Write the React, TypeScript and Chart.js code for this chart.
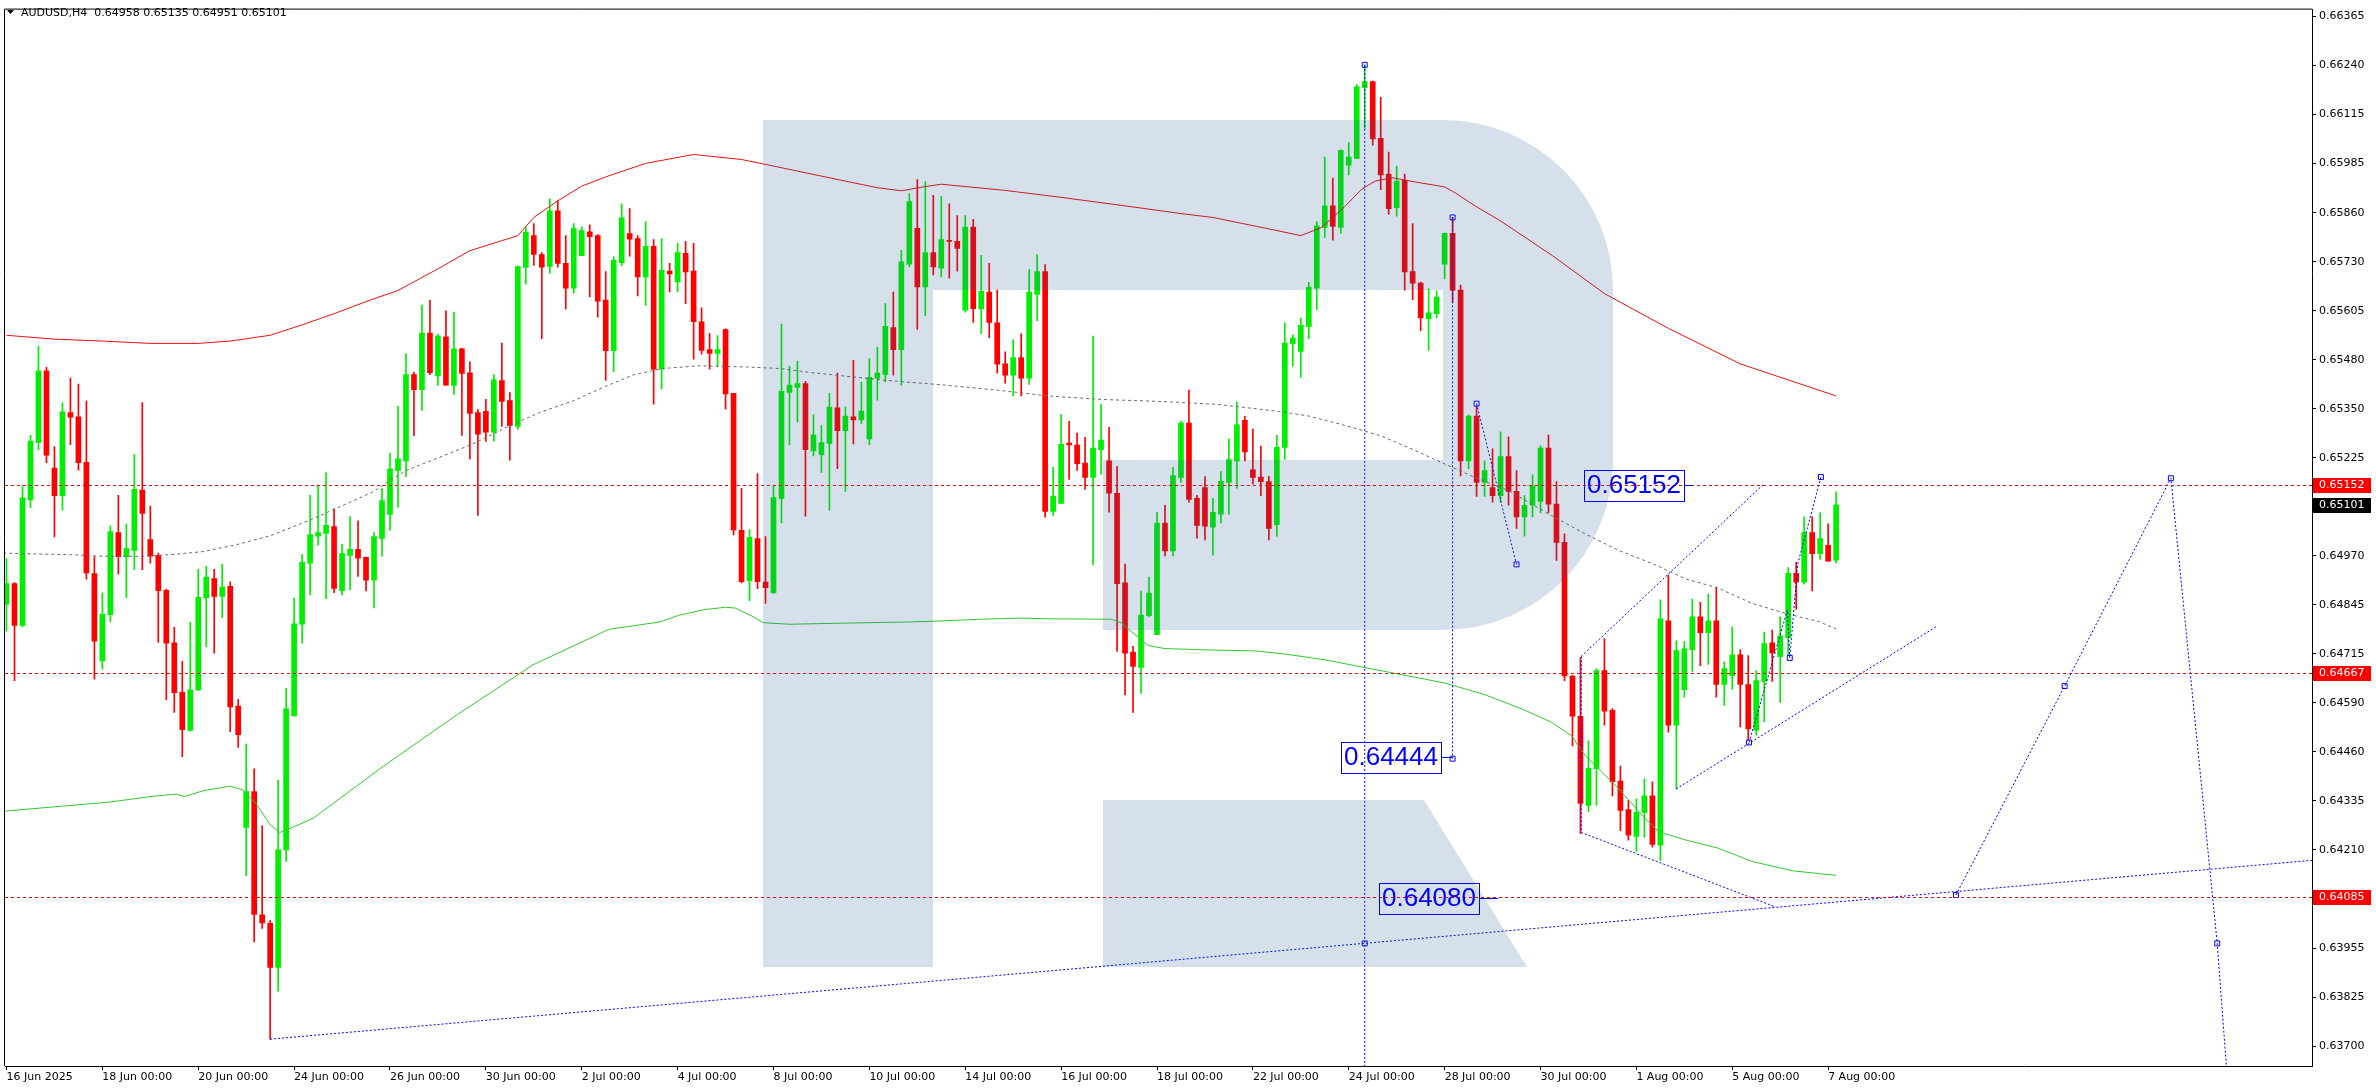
import React, { useEffect, useRef } from 'react';
import { Chart, registerables } from 'chart.js';

Chart.register(...registerables);

// ---------------- DATA ----------------
const SYMBOL = 'AUDUSD,H4';

const OPEN = [
  0.64844, 0.64897, 0.64789, 0.65114, 0.65263, 0.65448, 0.65196, 0.65125, 0.65340, 0.65329,
  0.65211, 0.64923, 0.64697, 0.64817, 0.65029, 0.64967, 0.64983, 0.65139, 0.65011, 0.64970,
  0.64880, 0.64744, 0.64616, 0.64517, 0.64622, 0.64860, 0.64910, 0.64864, 0.64890, 0.64580,
  0.64266, 0.64359, 0.64040, 0.64018, 0.63904, 0.64208, 0.64555, 0.64792, 0.64950, 0.65020,
  0.65027, 0.65045, 0.64879, 0.64970, 0.64986, 0.64965, 0.64906, 0.65014, 0.65076, 0.65190,
  0.65215, 0.65438, 0.65399, 0.65546, 0.65435, 0.65536, 0.65410, 0.65505, 0.65443, 0.65340,
  0.65343, 0.65289, 0.65423, 0.65371, 0.65304, 0.65716, 0.65798, 0.65749, 0.65718, 0.65862,
  0.65726, 0.65662, 0.65746, 0.65808, 0.65798, 0.65631, 0.65500, 0.65728, 0.65803, 0.65790,
  0.65691, 0.65770, 0.65452, 0.65706, 0.65678, 0.65752, 0.65706, 0.65575, 0.65503, 0.65493,
  0.65555, 0.65390, 0.65035, 0.64905, 0.65014, 0.64901, 0.64874, 0.65118, 0.65392, 0.65405,
  0.65415, 0.65241, 0.65231, 0.65260, 0.65352, 0.65293, 0.65329, 0.65321, 0.65272, 0.65429,
  0.65439, 0.65560, 0.65503, 0.65724, 0.65817, 0.65665, 0.65754, 0.65714, 0.65786, 0.65783,
  0.65605, 0.65820, 0.65609, 0.65652, 0.65572, 0.65466, 0.65437, 0.65482, 0.65429, 0.65646,
  0.65705, 0.65084, 0.65105, 0.65261, 0.65256, 0.65209, 0.65172, 0.65244, 0.65215, 0.65131,
  0.64899, 0.64720, 0.64680, 0.64814, 0.64765, 0.65054, 0.64982, 0.65172, 0.65313, 0.65118,
  0.65146, 0.65043, 0.65077, 0.65159, 0.65215, 0.65320, 0.65192, 0.65173, 0.65161, 0.65050,
  0.65250, 0.65518, 0.65498, 0.65562, 0.65662, 0.65819, 0.65875, 0.65819, 0.65980, 0.65998,
  0.66181, 0.66197, 0.66050, 0.65957, 0.65870, 0.65941, 0.65705, 0.65675, 0.65583, 0.65596,
  0.65724, 0.65804, 0.65657, 0.65215, 0.65331, 0.65159, 0.65146, 0.65125, 0.65226, 0.65136,
  0.65070, 0.65100, 0.65110, 0.65248, 0.65103, 0.65004, 0.64658, 0.64554, 0.64323, 0.64418,
  0.64672, 0.64569, 0.64386, 0.64312, 0.64243, 0.64305, 0.64348, 0.64220, 0.64801, 0.64531,
  0.64623, 0.64726, 0.64811, 0.64770, 0.64801, 0.64636, 0.64659, 0.64713, 0.64636, 0.64518,
  0.64644, 0.64744, 0.64708, 0.64757, 0.64924, 0.64901, 0.65029, 0.64975, 0.64996, 0.64958,
];

const HIGH = [
  0.64962, 0.64900, 0.65151, 0.65281, 0.65512, 0.65457, 0.65252, 0.65366, 0.65429, 0.65414,
  0.65370, 0.64967, 0.64873, 0.65047, 0.65126, 0.65052, 0.65231, 0.65366, 0.65098, 0.64976,
  0.64883, 0.64784, 0.64696, 0.64797, 0.64934, 0.64942, 0.64934, 0.64947, 0.64902, 0.64598,
  0.64482, 0.64418, 0.64270, 0.64025, 0.64388, 0.64626, 0.64860, 0.64973, 0.65126, 0.65152,
  0.65184, 0.65091, 0.64999, 0.65071, 0.65060, 0.64966, 0.65029, 0.65143, 0.65235, 0.65356,
  0.65492, 0.65445, 0.65618, 0.65631, 0.65543, 0.65603, 0.65600, 0.65507, 0.65471, 0.65348,
  0.65374, 0.65438, 0.65520, 0.65392, 0.65720, 0.65821, 0.65829, 0.65754, 0.65893, 0.65888,
  0.65798, 0.65829, 0.65821, 0.65826, 0.65800, 0.65705, 0.65744, 0.65880, 0.65868, 0.65798,
  0.65834, 0.65788, 0.65790, 0.65726, 0.65778, 0.65783, 0.65778, 0.65611, 0.65545, 0.65539,
  0.65557, 0.65390, 0.65144, 0.65037, 0.65182, 0.65019, 0.65149, 0.65569, 0.65460, 0.65473,
  0.65421, 0.65334, 0.65306, 0.65390, 0.65442, 0.65354, 0.65475, 0.65419, 0.65480, 0.65509,
  0.65622, 0.65652, 0.65760, 0.65907, 0.65943, 0.65937, 0.65902, 0.65899, 0.65880, 0.65850,
  0.65850, 0.65840, 0.65747, 0.65726, 0.65657, 0.65497, 0.65528, 0.65544, 0.65711, 0.65749,
  0.65723, 0.65198, 0.65335, 0.65317, 0.65287, 0.65276, 0.65538, 0.65361, 0.65302, 0.65200,
  0.64948, 0.64735, 0.64878, 0.64914, 0.65082, 0.65100, 0.65198, 0.65318, 0.65398, 0.65126,
  0.65174, 0.65118, 0.65187, 0.65272, 0.65367, 0.65330, 0.65297, 0.65253, 0.65175, 0.65281,
  0.65572, 0.65541, 0.65584, 0.65677, 0.65834, 0.66001, 0.65947, 0.66020, 0.66039, 0.66189,
  0.66240, 0.66198, 0.66156, 0.66014, 0.65978, 0.65957, 0.65829, 0.65678, 0.65660, 0.65655,
  0.65805, 0.65845, 0.65670, 0.65334, 0.65357, 0.65215, 0.65246, 0.65290, 0.65277, 0.65190,
  0.65125, 0.65179, 0.65254, 0.65282, 0.65161, 0.65026, 0.64660, 0.64706, 0.64490, 0.64677,
  0.64755, 0.64574, 0.64425, 0.64336, 0.64340, 0.64392, 0.64384, 0.64855, 0.64919, 0.64749,
  0.64747, 0.64857, 0.64849, 0.64870, 0.64888, 0.64695, 0.64785, 0.64726, 0.64711, 0.64672,
  0.64772, 0.64777, 0.64811, 0.64939, 0.64952, 0.65070, 0.65070, 0.65081, 0.65052, 0.65135,
];

const LOW = [
  0.64774, 0.64646, 0.64785, 0.65094, 0.65243, 0.65210, 0.65018, 0.65087, 0.65257, 0.65191,
  0.64909, 0.64650, 0.64676, 0.64799, 0.64922, 0.64861, 0.64933, 0.64933, 0.64950, 0.64745,
  0.64597, 0.64564, 0.64449, 0.64515, 0.64620, 0.64734, 0.64717, 0.64809, 0.64514, 0.64473,
  0.64141, 0.63970, 0.64005, 0.63718, 0.63842, 0.64178, 0.64554, 0.64743, 0.64868, 0.64997,
  0.64858, 0.64874, 0.64868, 0.64881, 0.64916, 0.64878, 0.64834, 0.64968, 0.65035, 0.65095,
  0.65174, 0.65280, 0.65346, 0.65438, 0.65410, 0.65410, 0.65387, 0.65281, 0.65220, 0.65074,
  0.65265, 0.65266, 0.65304, 0.65217, 0.65297, 0.65672, 0.65721, 0.65531, 0.65700, 0.65716,
  0.65608, 0.65649, 0.65746, 0.65639, 0.65587, 0.65423, 0.65446, 0.65720, 0.65745, 0.65642,
  0.65617, 0.65362, 0.65401, 0.65652, 0.65652, 0.65622, 0.65478, 0.65491, 0.65452, 0.65460,
  0.65349, 0.65023, 0.64899, 0.64853, 0.64884, 0.64846, 0.64872, 0.65054, 0.65257, 0.65316,
  0.65072, 0.65228, 0.65185, 0.65087, 0.65195, 0.65136, 0.65259, 0.65311, 0.65257, 0.65372,
  0.65419, 0.65437, 0.65411, 0.65717, 0.65555, 0.65591, 0.65696, 0.65691, 0.65688, 0.65706,
  0.65600, 0.65573, 0.65544, 0.65534, 0.65442, 0.65416, 0.65383, 0.65383, 0.65413, 0.65578,
  0.65069, 0.65074, 0.65105, 0.65167, 0.65190, 0.65141, 0.64946, 0.65180, 0.65082, 0.64722,
  0.64609, 0.64564, 0.64613, 0.64811, 0.64765, 0.64969, 0.64969, 0.65159, 0.65108, 0.65015,
  0.65010, 0.64971, 0.65054, 0.65077, 0.65144, 0.65215, 0.65155, 0.65125, 0.65010, 0.65020,
  0.65219, 0.65460, 0.65431, 0.65531, 0.65606, 0.65793, 0.65786, 0.65804, 0.65955, 0.65997,
  0.66076, 0.66032, 0.65917, 0.65853, 0.65848, 0.65657, 0.65632, 0.65552, 0.65501, 0.65585,
  0.65686, 0.65626, 0.65176, 0.65195, 0.65123, 0.65123, 0.65108, 0.65108, 0.65100, 0.65040,
  0.65020, 0.65070, 0.65080, 0.65080, 0.64957, 0.64646, 0.64477, 0.64250, 0.64307, 0.64323,
  0.64531, 0.64348, 0.64258, 0.64233, 0.64204, 0.64240, 0.64215, 0.64181, 0.64513, 0.64366,
  0.64603, 0.64670, 0.64685, 0.64688, 0.64603, 0.64582, 0.64624, 0.64526, 0.64492, 0.64505,
  0.64539, 0.64644, 0.64590, 0.64711, 0.64831, 0.64896, 0.64878, 0.64960, 0.64955, 0.64951,
];

const CLOSE = [
  0.64897, 0.64789, 0.65119, 0.65266, 0.65448, 0.65230, 0.65125, 0.65342, 0.65328, 0.65210,
  0.64925, 0.64748, 0.64818, 0.65032, 0.64967, 0.64988, 0.65141, 0.65079, 0.64968, 0.64879,
  0.64743, 0.64615, 0.64519, 0.64622, 0.64862, 0.64914, 0.64864, 0.64888, 0.64578, 0.64506,
  0.64359, 0.64041, 0.64019, 0.63904, 0.64208, 0.64573, 0.64793, 0.64952, 0.65024, 0.65029,
  0.65048, 0.64885, 0.64975, 0.64986, 0.64963, 0.64906, 0.65019, 0.65112, 0.65194, 0.65220,
  0.65438, 0.65399, 0.65546, 0.65443, 0.65538, 0.65411, 0.65505, 0.65441, 0.65338, 0.65284,
  0.65289, 0.65425, 0.65369, 0.65307, 0.65718, 0.65807, 0.65749, 0.65716, 0.65862, 0.65726,
  0.65662, 0.65816, 0.65811, 0.65795, 0.65628, 0.65500, 0.65734, 0.65844, 0.65789, 0.65691,
  0.65770, 0.65452, 0.65708, 0.65699, 0.65754, 0.65704, 0.65575, 0.65501, 0.65493, 0.65503,
  0.65388, 0.65036, 0.64902, 0.65017, 0.64902, 0.64887, 0.65120, 0.65395, 0.65411, 0.65415,
  0.65244, 0.65282, 0.65262, 0.65354, 0.65293, 0.65331, 0.65321, 0.65344, 0.65431, 0.65442,
  0.65563, 0.65503, 0.65730, 0.65886, 0.65665, 0.65754, 0.65717, 0.65788, 0.65783, 0.65765,
  0.65820, 0.65609, 0.65654, 0.65573, 0.65465, 0.65437, 0.65482, 0.65429, 0.65652, 0.65705,
  0.65084, 0.65124, 0.65258, 0.65256, 0.65208, 0.65172, 0.65248, 0.65269, 0.65131, 0.64897,
  0.64717, 0.64683, 0.64816, 0.64873, 0.65054, 0.64982, 0.65177, 0.65313, 0.65115, 0.65048,
  0.65046, 0.65082, 0.65162, 0.65218, 0.65308, 0.65238, 0.65172, 0.65161, 0.65040, 0.65250,
  0.65520, 0.65533, 0.65566, 0.65664, 0.65823, 0.65875, 0.65822, 0.66019, 0.66001, 0.66183,
  0.66197, 0.66048, 0.65955, 0.65868, 0.65939, 0.65704, 0.65675, 0.65585, 0.65598, 0.65639,
  0.65804, 0.65657, 0.65215, 0.65331, 0.65159, 0.65190, 0.65125, 0.65226, 0.65136, 0.65070,
  0.65100, 0.65150, 0.65248, 0.65103, 0.65004, 0.64658, 0.64554, 0.64328, 0.64419, 0.64672,
  0.64567, 0.64384, 0.64310, 0.64246, 0.64305, 0.64348, 0.64222, 0.64806, 0.64531, 0.64724,
  0.64729, 0.64811, 0.64770, 0.64801, 0.64636, 0.64677, 0.64713, 0.64636, 0.64521, 0.64646,
  0.64742, 0.64718, 0.64762, 0.64924, 0.64901, 0.65029, 0.64975, 0.65014, 0.64955, 0.65101,
];

// moving averages (bar position, value)
const RED_MA_BARS = [0, 6, 12, 18, 24, 28, 33, 37, 41, 45.5, 49, 54, 58, 62, 64, 66, 69, 72, 75, 80, 86, 92, 96, 99, 105, 109, 112, 115, 117, 125, 132, 140, 147, 151, 155, 159, 162, 164.6, 167.6, 169.6, 171.3, 173.4, 176.3, 180, 181.3, 183.8, 187, 190.4, 193.5, 200, 208, 217, 229];
const RED_MA_VALUES = [0.65540, 0.65530, 0.65525, 0.65519, 0.65519, 0.65525, 0.65540, 0.65567, 0.65596, 0.65631, 0.65656, 0.65712, 0.65759, 0.65785, 0.65798, 0.65845, 0.65888, 0.65926, 0.65950, 0.65985, 0.66008, 0.65995, 0.65978, 0.65965, 0.65939, 0.65922, 0.65914, 0.65925, 0.65931, 0.65915, 0.65897, 0.65875, 0.65855, 0.65845, 0.65828, 0.65811, 0.65798, 0.65819, 0.65875, 0.65918, 0.65939, 0.65948, 0.65937, 0.65924, 0.65909, 0.65875, 0.65836, 0.65789, 0.65746, 0.65648, 0.65558, 0.65466, 0.65383];

const GRAY_MA_BARS = [-0.4, 8, 12, 17, 20.5, 24.6, 28.8, 33, 37.9, 41.6, 45.8, 48.3, 50, 54.2, 58.3, 62.5, 66.7, 70.9, 75, 78.4, 82.1, 86.7, 92.6, 96.8, 100.9, 105.1, 109.3, 112.6, 117, 124.5, 130.4, 137, 145.4, 151.6, 155.5, 158.8, 163, 167.1, 170, 172.1, 175.4, 179.6, 183.8, 188, 190.5, 193.4, 197.6, 201.8, 206, 210.1, 214.3, 218.5, 222.7, 226.8, 229];
const GRAY_MA_VALUES = [0.64976, 0.64972, 0.64968, 0.64968, 0.64972, 0.64980, 0.64998, 0.65021, 0.65061, 0.65095, 0.65134, 0.65168, 0.65190, 0.65224, 0.65258, 0.65301, 0.65340, 0.65370, 0.65408, 0.65437, 0.65454, 0.65461, 0.65458, 0.65454, 0.65443, 0.65434, 0.65425, 0.65419, 0.65412, 0.65397, 0.65383, 0.65374, 0.65368, 0.65361, 0.65352, 0.65344, 0.65331, 0.65309, 0.65292, 0.65279, 0.65250, 0.65211, 0.65172, 0.65138, 0.65108, 0.65073, 0.65026, 0.64983, 0.64949, 0.64910, 0.64885, 0.64846, 0.64820, 0.64799, 0.64780];

const GREEN_MA_BARS = [-0.4, 8, 13, 18.4, 21.3, 22.3, 24.6, 28, 29.6, 31.3, 33, 34.2, 35.9, 38.4, 47, 56.4, 65.9, 75.4, 81.8, 84.1, 87.4, 90, 91.2, 93.3, 94.7, 98, 105, 113, 116.2, 122, 127, 130.8, 138.3, 139.5, 141.2, 142.9, 145, 151.3, 156.3, 160, 165, 170, 175, 180, 185, 190, 193.4, 195.9, 197.6, 201.8, 205.1, 206.8, 210.1, 214.3, 218.5, 223.5, 229];
const GREEN_MA_VALUES = [0.64308, 0.64323, 0.64332, 0.64347, 0.64352, 0.64346, 0.64361, 0.64373, 0.64363, 0.64326, 0.64273, 0.64253, 0.64267, 0.64290, 0.64422, 0.64558, 0.64687, 0.64779, 0.64798, 0.64815, 0.64830, 0.64836, 0.64834, 0.64813, 0.64796, 0.64792, 0.64795, 0.64798, 0.64800, 0.64805, 0.64808, 0.64806, 0.64805, 0.64796, 0.64766, 0.64737, 0.64729, 0.64725, 0.64723, 0.64715, 0.64700, 0.64680, 0.64660, 0.64640, 0.64610, 0.64570, 0.64538, 0.64503, 0.64452, 0.64366, 0.64289, 0.64255, 0.64234, 0.64212, 0.64178, 0.64154, 0.64142];

// drawn analysis objects (bar position, price)
const TREND_BARS = [33, 288.6];
const TREND_VALUES = [0.63718, 0.64181];
const VLINE_A_BARS = [170, 170, 170];
const VLINE_A_VALUES = [0.66240, 0.63966, 0.63550];
const VLINE_B_BARS = [181, 181];
const VLINE_B_VALUES = [0.65845, 0.64444];
const WAVE_A_BARS = [184, 189];
const WAVE_A_VALUES = [0.65363, 0.64947];
const CHANNEL_UP_BARS = [197.1, 220];
const CHANNEL_UP_VALUES = [0.64709, 0.65156];
const CHANNEL_SIDE_BARS = [197.1, 197.1, 221.2];
const CHANNEL_SIDE_VALUES = [0.64709, 0.64253, 0.64062];
const CHANNEL_LOW_BARS = [209, 241.7];
const CHANNEL_LOW_VALUES = [0.64366, 0.64788];
const WAVE_B_BARS = [218.1, 222.9, 223.2, 224.2, 227.1];
const WAVE_B_VALUES = [0.64486, 0.64829, 0.64705, 0.64949, 0.65173];
const PROJ_BARS = [244, 257.6, 270.9, 276.7, 278.2];
const PROJ_VALUES = [0.64091, 0.64632, 0.65170, 0.63966, 0.63550];

const BOX_TEXTS = ['0.65152', '0.64444', '0.64080'];
const BOX_VALUES = [0.65152, 0.64449, 0.64083];
const BOX_RIGHT_BARS = [209.9, 179.6, 184.25];
const BOX_LINE_TO_BARS = [211.1, 181, 186.7];

const LEVELS = [0.65152, 0.64667, 0.64085];
const LEVEL_LABELS = ['0.65152', '0.64667', '0.64085'];
const LAST_PRICE = 0.65101;
const LAST_PRICE_LABEL = '0.65101';

const X_TICK_BARS = [0, 12, 24, 36, 48, 60, 72, 84, 96, 108, 120, 132, 144, 156, 168, 180, 192, 204, 216, 228];
const X_TICK_LABELS = ['16 Jun 2025', '18 Jun 00:00', '20 Jun 00:00', '24 Jun 00:00', '26 Jun 00:00', '30 Jun 00:00', '2 Jul 00:00', '4 Jul 00:00', '8 Jul 00:00', '10 Jul 00:00', '14 Jul 00:00', '16 Jul 00:00', '18 Jul 00:00', '22 Jul 00:00', '24 Jul 00:00', '28 Jul 00:00', '30 Jul 00:00', '1 Aug 00:00', '5 Aug 00:00', '7 Aug 00:00'];
const Y_TICK_LABELS = ['0.66365', '0.66240', '0.66115', '0.65985', '0.65860', '0.65730', '0.65605', '0.65480', '0.65350', '0.65225', '0.65095', '0.64970', '0.64845', '0.64715', '0.64590', '0.64460', '0.64335', '0.64210', '0.64080', '0.63955', '0.63825', '0.63700'];
const Y_TOP_TICK = 0.66365;
const Y_TICK_STEP = 0.0012690;
const Y_MIN = 0.636486;
const Y_MAX = 0.66383;
const X_MIN = -0.1875;
const X_MAX = 288.5625;

// ---------------- STYLE ----------------
const W = 2376;
const H = 1090;
const BULL = '#00ee00';
const BEAR = '#ff0000';
const BLUE = '#0000ff';
const FONT = '"DejaVu Sans"';

const pts = (bars: number[], vals: number[]) => bars.map((b, k) => ({ x: b, y: vals[k] }));

function blueLine(bars: number[], vals: number[], markers: number[]) {
  return {
    type: 'line' as const,
    data: pts(bars, vals),
    borderColor: BLUE,
    borderWidth: 1,
    borderDash: [2, 2],
    pointStyle: 'rect' as const,
    pointRadius: bars.map((_, k) => (markers.includes(k) ? 3.5 : 0)),
    pointBackgroundColor: 'rgba(0,0,0,0)',
    pointBorderColor: BLUE,
    pointBorderWidth: 1,
    fill: false,
    tension: 0,
    order: 1,
  };
}

const overlayPlugin = {
  id: 'mtOverlay',
  afterDatasetsDraw(chart: any) {
    const { ctx, chartArea: a, scales } = chart;
    const x = scales.x;
    const y = scales.y;
    ctx.save();
    ctx.beginPath();
    ctx.rect(a.left, a.top, a.right - a.left, a.bottom - a.top);
    ctx.clip();

    // watermark logo (translucent)
    ctx.fillStyle = 'rgba(39,92,150,0.19)';
    ctx.beginPath();
    ctx.moveTo(763, 120);
    ctx.lineTo(1443, 120);
    ctx.arc(1443, 290, 170, -Math.PI / 2, 0);
    ctx.lineTo(1613, 460);
    ctx.arc(1443, 460, 170, 0, Math.PI / 2);
    ctx.lineTo(1103, 630);
    ctx.lineTo(1103, 460);
    ctx.lineTo(1443, 460);
    ctx.lineTo(1443, 290);
    ctx.lineTo(933, 290);
    ctx.lineTo(933, 967);
    ctx.lineTo(763, 967);
    ctx.closePath();
    ctx.moveTo(1103, 800);
    ctx.lineTo(1424, 800);
    ctx.lineTo(1527, 967);
    ctx.lineTo(1103, 967);
    ctx.closePath();
    ctx.fill();

    // horizontal levels
    ctx.strokeStyle = '#ff0000';
    ctx.lineWidth = 1;
    ctx.setLineDash([3, 3]);
    for (const lv of LEVELS) {
      const py = Math.round(y.getPixelForValue(lv)) + 0.5;
      ctx.beginPath();
      ctx.moveTo(a.left, py);
      ctx.lineTo(a.right, py);
      ctx.stroke();
    }

    // price text boxes
    ctx.setLineDash([]);
    ctx.strokeStyle = BLUE;
    ctx.fillStyle = BLUE;
    ctx.font = '26px "Liberation Sans"';
    ctx.textAlign = 'center';
    ctx.textBaseline = 'middle';
    BOX_TEXTS.forEach((t, k) => {
      const xr = Math.round(x.getPixelForValue(BOX_RIGHT_BARS[k]));
      const yc = Math.round(y.getPixelForValue(BOX_VALUES[k]));
      const bw = 100;
      const bh = 31;
      ctx.strokeRect(xr - bw + 0.5, yc - Math.floor(bh / 2) + 0.5, bw, bh);
      ctx.fillText(t, xr - bw / 2, yc + 1);
      ctx.beginPath();
      ctx.moveTo(xr, yc + 0.5);
      ctx.lineTo(x.getPixelForValue(BOX_LINE_TO_BARS[k]), yc + 0.5);
      ctx.stroke();
    });
    ctx.restore();
  },
  afterDraw(chart: any) {
    const { ctx, chartArea: a, scales } = chart;
    const y = scales.y;
    ctx.save();
    // left/top frame lines
    ctx.strokeStyle = '#000';
    ctx.lineWidth = 1;
    ctx.beginPath();
    ctx.moveTo(a.left - 0.5, a.bottom);
    ctx.lineTo(a.left - 0.5, a.top - 0.5);
    ctx.lineTo(a.right, a.top - 0.5);
    ctx.stroke();

    // header
    ctx.fillStyle = '#000';
    ctx.beginPath();
    ctx.moveTo(7, 10);
    ctx.lineTo(14, 10);
    ctx.lineTo(10.5, 14);
    ctx.closePath();
    ctx.fill();
    ctx.font = `11px ${FONT}`;
    ctx.textAlign = 'left';
    ctx.textBaseline = 'middle';
    const n = CLOSE.length - 1;
    const hdr = `${SYMBOL}  ${OPEN[n].toFixed(5)} ${HIGH[n].toFixed(5)} ${LOW[n].toFixed(5)} ${CLOSE[n].toFixed(5)}`;
    ctx.fillText(hdr, 21, 13);

    // axis price labels
    const drawTag = (val: number, text: string, bg: string) => {
      const py = Math.round(y.getPixelForValue(val));
      ctx.fillStyle = bg;
      ctx.fillRect(a.right + 1, py - 7, 58, 15);
      ctx.fillStyle = '#fff';
      ctx.fillText(text, a.right + 7, py + 0.5);
    };
    LEVELS.forEach((lv, k) => drawTag(lv, LEVEL_LABELS[k], '#ff0000'));
    drawTag(LAST_PRICE, LAST_PRICE_LABEL, '#000000');
    ctx.restore();
  },
};

export default function App() {
  const ref = useRef<HTMLCanvasElement | null>(null);

  useEffect(() => {
    const canvas = ref.current;
    if (!canvas) return;
    const idx = OPEN.map((_, i) => i);
    const colors = idx.map((i) => (CLOSE[i] >= OPEN[i] ? BULL : BEAR));

    const chart = new Chart(canvas, {
      type: 'bar',
      data: {
        datasets: [
          {
            type: 'bar',
            data: idx.map((i) => ({ x: i, y: [LOW[i], HIGH[i]] })) as any,
            backgroundColor: colors,
            borderWidth: 0,
            barThickness: 1,
            grouped: false,
            order: 10,
          } as any,
          {
            type: 'bar',
            data: idx.map((i) => ({ x: i, y: [OPEN[i], CLOSE[i]] })) as any,
            backgroundColor: colors,
            borderWidth: 0,
            barThickness: 5,
            minBarLength: 1,
            grouped: false,
            order: 9,
          } as any,
          {
            type: 'line',
            data: pts(GREEN_MA_BARS, GREEN_MA_VALUES),
            borderColor: '#32c832',
            borderWidth: 1,
            pointRadius: 0,
            tension: 0,
            order: 5,
          } as any,
          {
            type: 'line',
            data: pts(GRAY_MA_BARS, GRAY_MA_VALUES),
            borderColor: '#6a6a6a',
            borderWidth: 1,
            borderDash: [3, 3],
            pointRadius: 0,
            tension: 0,
            order: 5,
          } as any,
          {
            type: 'line',
            data: pts(RED_MA_BARS, RED_MA_VALUES),
            borderColor: '#ee1010',
            borderWidth: 1,
            pointRadius: 0,
            tension: 0,
            order: 5,
          } as any,
          blueLine(TREND_BARS, TREND_VALUES, []) as any,
          blueLine(VLINE_A_BARS, VLINE_A_VALUES, [0, 1]) as any,
          blueLine(VLINE_B_BARS, VLINE_B_VALUES, [0, 1]) as any,
          blueLine(WAVE_A_BARS, WAVE_A_VALUES, [0, 1]) as any,
          blueLine(CHANNEL_UP_BARS, CHANNEL_UP_VALUES, []) as any,
          blueLine(CHANNEL_SIDE_BARS, CHANNEL_SIDE_VALUES, []) as any,
          blueLine(CHANNEL_LOW_BARS, CHANNEL_LOW_VALUES, []) as any,
          blueLine(WAVE_B_BARS, WAVE_B_VALUES, [0, 2, 4]) as any,
          blueLine(PROJ_BARS, PROJ_VALUES, [0, 1, 2, 3]) as any,
        ],
      },
      options: {
        animation: false,
        responsive: false,
        devicePixelRatio: 1,
        events: [],
        layout: { padding: { left: 2, top: 2, right: 0, bottom: 0 } },
        plugins: { legend: { display: false }, tooltip: { enabled: false } },
        scales: {
          x: {
            type: 'linear',
            min: X_MIN,
            max: X_MAX,
            offset: false,
            grid: { display: true, offset: false, drawOnChartArea: false, drawTicks: true, tickLength: 4, color: '#000' },
            border: { display: true, color: '#000' },
            ticks: {
              autoSkip: false,
              maxRotation: 0,
              minRotation: 0,
              align: 'start',
              padding: 1,
              color: '#000',
              font: { family: 'DejaVu Sans', size: 11 },
              callback: (_v: any, i: number) => X_TICK_LABELS[i],
            },
            afterBuildTicks: (s: any) => {
              s.ticks = X_TICK_BARS.map((v) => ({ value: v }));
            },
            afterFit: (s: any) => {
              s.height = 24;
            },
          },
          y: {
            type: 'linear',
            position: 'right',
            min: Y_MIN,
            max: Y_MAX,
            grid: { display: true, drawOnChartArea: false, drawTicks: true, tickLength: 4, color: '#000' },
            border: { display: true, color: '#000' },
            ticks: {
              autoSkip: false,
              padding: 3,
              color: '#000',
              crossAlign: 'near',
              font: { family: 'DejaVu Sans', size: 11 },
              callback: (_v: any, i: number) => Y_TICK_LABELS[i],
            },
            afterBuildTicks: (s: any) => {
              s.ticks = Y_TICK_LABELS.map((_, k) => ({ value: Y_TOP_TICK - k * Y_TICK_STEP }));
            },
            afterFit: (s: any) => {
              s.width = 64;
            },
          },
        },
      } as any,
      plugins: [overlayPlugin],
    });
    return () => chart.destroy();
  }, []);

  return (
    <div style={{ position: 'fixed', left: 0, top: 0, width: W, height: H, background: '#fff' }}>
      <canvas ref={ref} width={W} height={H} style={{ display: 'block', width: W, height: H }} />
    </div>
  );
}
